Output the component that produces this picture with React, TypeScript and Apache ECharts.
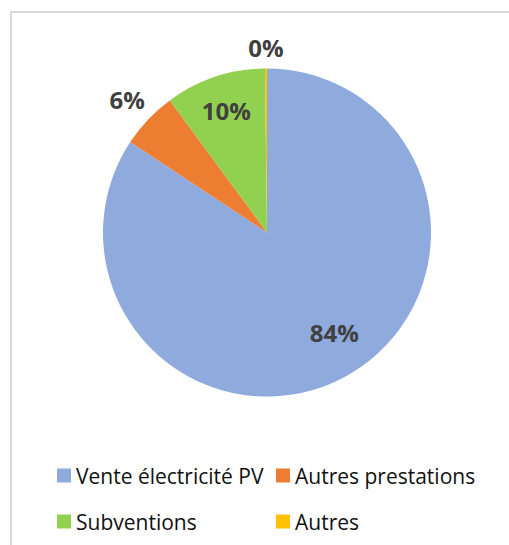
import React, { useEffect, useRef } from "react";
import * as echarts from "echarts";

const categories = ["Vente électricité PV", "Autres prestations", "Subventions", "Autres"];
const values = [84.3, 5.6, 9.9, 0.2];
const colors = ["#8FAADC", "#ED7D31", "#92D050", "#FFC000"];
const legendLeftColumn = ["Vente électricité PV", "Subventions"];
const legendRightColumn = ["Autres prestations", "Autres"];

const W = 509;
const H = 545;
const CX = 267;
const CY = 232.5;
const R = 164;
const LABEL_RADII = [121, 193, 128, 185];
const LABEL_SHIFT = [
  [10, -7],
  [0, 0],
  [0, -1],
  [0, 0],
];

export default function App() {
  const ref = useRef<HTMLDivElement>(null);
  useEffect(() => {
    document.body.style.margin = "0";
    if (!ref.current) return;
    const chart = echarts.init(ref.current, null, { renderer: "svg" });
    const legendCommon = {
      orient: "vertical" as const,
      top: 465,
      padding: 0,
      itemWidth: 14,
      itemHeight: 14,
      itemGap: 25,
      icon: "rect",
      selectedMode: false,
      textStyle: {
        fontFamily: "Open Sans",
        fontSize: 21,
        lineHeight: 20,
        color: "#111111",
      },
    };
    chart.setOption({
      animation: false,
      backgroundColor: "#ffffff",
      color: colors,
      graphic: [
        {
          type: "rect",
          shape: { x: 11, y: 12, width: 600, height: 600 },
          style: { fill: "none", stroke: "#d9d9d9", lineWidth: 2 },
          silent: true,
        },
      ],
      legend: [
        { ...legendCommon, left: 57, data: legendLeftColumn },
        { ...legendCommon, left: 276, data: legendRightColumn },
      ],
      series: [
        {
          type: "pie",
          center: [CX, CY],
          radius: [0, R],
          startAngle: 90,
          clockwise: true,
          percentPrecision: 0,
          avoidLabelOverlap: false,
          data: categories.map((name, i) => ({ name, value: values[i] })),
          label: {
            show: true,
            position: "inside",
            formatter: "{d}%",
            fontFamily: "Open Sans",
            fontWeight: "bold",
            fontSize: 24,
            color: "#404040",
          },
          labelLine: { show: false },
          labelLayout: (p: any) => {
            const r = p.labelRect;
            const cx = r.x + r.width / 2;
            const cy = r.y + r.height / 2;
            const vx = cx - CX;
            const vy = cy - CY;
            const len = Math.hypot(vx, vy) || 1;
            const target = LABEL_RADII[p.dataIndex];
            const s = LABEL_SHIFT[p.dataIndex];
            return {
              dx: (vx / len) * target - vx + s[0],
              dy: (vy / len) * target - vy + s[1],
            };
          },
          itemStyle: { borderWidth: 0 },
          emphasis: { disabled: true },
        },
      ],
    });
    return () => chart.dispose();
  }, []);
  return <div ref={ref} style={{ width: W, height: H }} />;
}
